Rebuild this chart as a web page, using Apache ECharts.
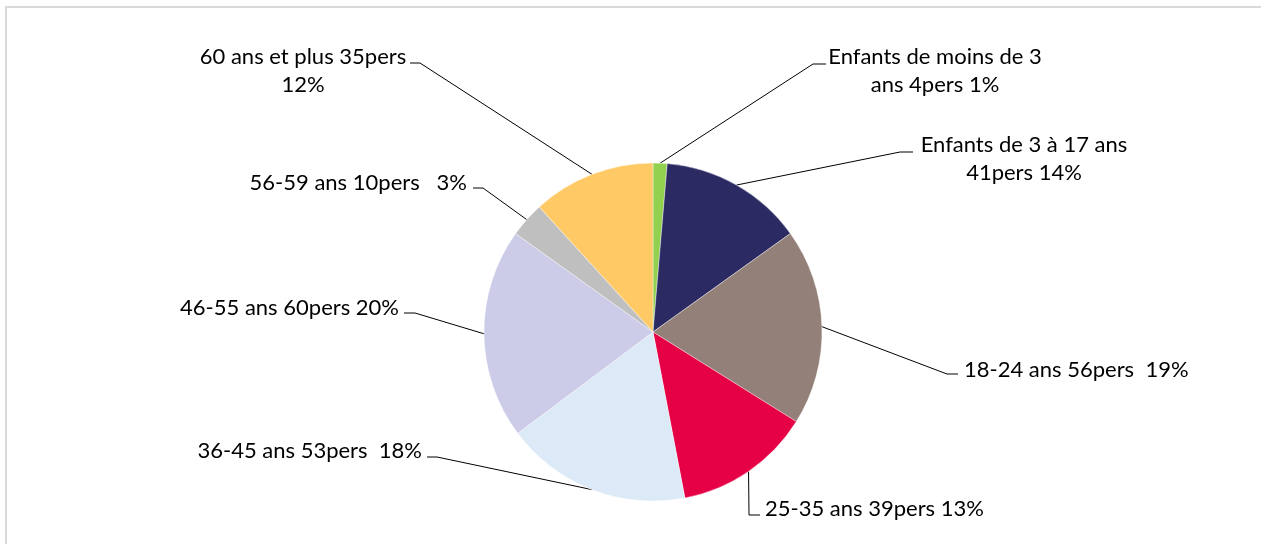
<!DOCTYPE html>
<html lang="fr">
<head>
<meta charset="utf-8">
<title>Répartition par âge</title>
<script src="https://cdn.jsdelivr.net/npm/echarts@6/dist/echarts.min.js"></script>
<style>
  html, body { margin: 0; padding: 0; background: #ffffff; }
  #chart { width: 1261px; height: 544px; }
</style>
</head>
<body>
<div id="chart"></div>
<script>
// Age groups and head counts
const categories = [
  'Enfants de moins de 3 ans',
  'Enfants de 3 à 17 ans',
  '18-24 ans',
  '25-35 ans',
  '36-45 ans',
  '46-55 ans',
  '56-59 ans',
  '60 ans et plus'
];
const persons = [4, 41, 56, 39, 53, 60, 10, 35];
const sliceColors = ['#92d050', '#2b2a63', '#938079', '#e60045', '#dce9f6', '#cccbe8', '#bfbfbf', '#ffc966'];

// Spacing before the percentage, and after which space a label wraps (0 = no wrap)
const pctGaps = [' ', ' ', '  ', ' ', '  ', ' ', '   ', ' '];
const wrapAfterSpace = [5, 6, 0, 0, 0, 0, 0, 5];

// Label anchors and leader-line elbows (px)
const labelPlacement = [
  { x: 935, y: 71,  align: 'center', elbow: [813, 64],  tip: [826, 64] },
  { x: 1024, y: 159, align: 'center', elbow: [900, 152], tip: [913, 152] },
  { x: 964, y: 370, align: 'left',   elbow: [947, 374], tip: [958, 374] },
  { x: 765, y: 509, align: 'left',   elbow: [749, 515], tip: [760, 515] },
  { x: 422, y: 451, align: 'right',  elbow: [437, 457], tip: [427, 457] },
  { x: 399, y: 308, align: 'right',  elbow: [415, 313], tip: [404, 313] },
  { x: 467, y: 183, align: 'right',  elbow: [483, 188], tip: [473, 188] },
  { x: 303, y: 71,  align: 'center', elbow: [420, 63],  tip: [410, 63] }
];

const total = persons.reduce((a, b) => a + b, 0);

function labelText(i) {
  const pct = Math.round(persons[i] / total * 100);
  let s = categories[i] + ' ' + persons[i] + 'pers' + pctGaps[i] + pct + '%';
  const n = wrapAfterSpace[i];
  if (n) {
    let pos = -1;
    for (let k = 0; k < n; k++) pos = s.indexOf(' ', pos + 1);
    s = s.slice(0, pos) + '\n' + s.slice(pos + 1);
  }
  return s;
}

const chart = echarts.init(document.getElementById('chart'), null, { renderer: 'canvas' });

chart.setOption({
  backgroundColor: '#ffffff',
  animation: false,
  graphic: [{
    type: 'rect',
    shape: { x: 6, y: 7, width: 1300, height: 600 },
    style: { fill: 'none', stroke: '#d9d9d9', lineWidth: 2 },
    silent: true,
    z: -10
  }],
  series: [{
    type: 'pie',
    center: [653, 332],
    radius: 169,
    startAngle: 90,
    clockwise: true,
    avoidLabelOverlap: false,
    data: categories.map((name, i) => ({
      name,
      value: persons[i],
      itemStyle: { color: sliceColors[i] }
    })),
    itemStyle: { borderColor: '#ffffff', borderWidth: 0.4 },
    label: {
      show: true,
      position: 'outside',
      formatter: p => labelText(p.dataIndex),
      fontFamily: 'Lato',
      fontSize: 22,
      lineHeight: 28,
      color: '#000000'
    },
    labelLine: {
      show: true,
      length: 10,
      length2: 10,
      smooth: false,
      lineStyle: { color: '#000000', width: 1 }
    },
    labelLayout: p => {
      const L = labelPlacement[p.dataIndex];
      const start = p.labelLinePoints ? p.labelLinePoints[0] : L.elbow;
      return {
        x: L.x,
        y: L.y,
        align: L.align,
        verticalAlign: 'middle',
        labelLinePoints: [start, L.elbow, L.tip]
      };
    },
    emphasis: { disabled: true }
  }]
});
</script>
</body>
</html>
